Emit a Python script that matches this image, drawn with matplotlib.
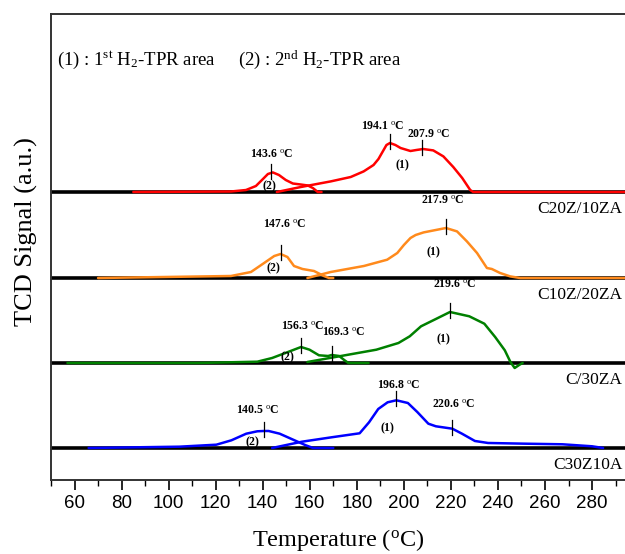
import matplotlib
matplotlib.use("Agg")
import matplotlib.pyplot as plt

plt.rcParams['font.family'] = 'Liberation Serif'
plt.rcParams['mathtext.fontset'] = 'custom'
plt.rcParams['mathtext.rm'] = 'Liberation Serif'
plt.rcParams['mathtext.it'] = 'Liberation Serif:italic'
plt.rcParams['mathtext.bf'] = 'Liberation Serif:bold'

# samples, top to bottom
samples = ['C20Z/10ZA', 'C10Z/20ZA', 'C/30ZA', 'C30Z10A']
colors = ['#ff0000', '#ff8a1c', '#008000', '#0000ff']
offsets = [288, 202, 117, 32]

# fitted H2-TPR components: (temperature, signal above baseline)
red_t2 = [85, 126.5, 132.9, 137.1, 140.1, 142.2, 144.3, 146.9, 149.8, 152.8, 156.2, 159.2, 161.3, 163.4, 165]
red_s2 = [0, 0.5, 2, 6, 13, 18, 19.6, 17, 12, 8.5, 7.5, 6.5, 4, 0, 0]
red_t1 = [146, 156.2, 168.9, 177.4, 182.9, 187.1, 189.2, 190.9, 192.6, 194.1, 196.4, 198.6, 202.8, 205.3,
          208.2, 212.5, 216.8, 221, 224.8, 228.2, 229.5, 294]
red_s1 = [0, 5, 10.6, 15, 20.6, 27, 33, 40, 47, 49, 47, 44, 41, 42, 43, 41.6, 35.6, 25, 14, 2, 0, 0]

org_t2 = [70, 126.5, 135, 140.6, 144.9, 147.6, 150.5, 153.3, 156.9, 161.8, 166, 168.2, 170]
org_s2 = [0, 2, 6, 15, 22, 24, 21, 12, 9, 7, 2, 0, 0]
org_t1 = [159, 168.9, 183, 192.9, 197.2, 200, 202.8, 205, 208.4, 212.7, 217.9, 222.6, 226.8, 231.1,
          235.3, 237.4, 240.9, 245.2, 249.4, 294]
org_s1 = [0, 6, 12, 18.3, 25, 33, 40, 43, 45.6, 47.6, 50, 46.6, 36.6, 25, 10, 9, 5, 1.6, 0, 0]

grn_t2 = [57, 112.4, 137.7, 144, 150.4, 156.3, 159.9, 163.9, 167.8, 169.3, 172.5, 174.8, 176.4, 185]
grn_s2 = [0, 0, 1.3, 5, 10.7, 16, 13.3, 7.7, 7, 8, 7, 2.7, 0, 0]
grn_t1 = [159, 170.9, 188.3, 197.7, 202.5, 207.3, 213.6, 219.6, 227.8, 234.2, 238.8, 242.9, 245.3,
          247.1, 249.2, 250.5]
grn_s1 = [1, 6, 13.3, 20, 26.7, 36.7, 44, 51, 46.7, 39.3, 26, 12.7, 1, -5, -1.7, 0]

blu_t2 = [66, 104.5, 120.3, 126.7, 133, 137.7, 140.5, 142.5, 147.2, 153.5, 158.3, 161.4, 170]
blu_s2 = [0, 1.3, 3.3, 7.7, 14.3, 16.7, 17, 17, 14.3, 7.7, 2.7, 0, 0]
blu_t1 = [144, 156.7, 169.3, 181.2, 185.2, 189.1, 193.1, 196.8, 201.7, 205.7, 210.4, 213.6, 220.6,
          224.7, 230.2, 235.8, 251.5, 267.4, 280, 284.7]
blu_s1 = [0, 6.3, 10.7, 14.7, 25.7, 39, 45.7, 47.7, 45, 36, 24.3, 21.7, 19.3, 14.3, 7, 5, 4.3, 3.7, 1.7, 0]

components = [
    ((red_t2, red_s2), (red_t1, red_s1)),
    ((org_t2, org_s2), (org_t1, org_s1)),
    ((grn_t2, grn_s2), (grn_t1, grn_s1)),
    ((blu_t2, blu_s2), (blu_t1, blu_s1)),
]

# labelled peak maxima per sample
peak_temps = [[143.6, 194.1, 207.9], [147.6, 217.9], [156.3, 169.3, 219.6], [140.5, 196.8, 220.6]]


def signal_at(t, s, x):
    # value of the component curve at x (linear between read points)
    for i in range(len(t) - 1):
        if t[i] <= x <= t[i + 1]:
            f = (x - t[i]) / (t[i + 1] - t[i])
            return s[i] + f * (s[i + 1] - s[i])
    return 0


# where the peak labels and the (1)/(2) marks sit, relative to the baseline
label_pos = [
    [(144.0, 37), (191.0, 65), (210.5, 57)],
    [(149.5, 53), (216.5, 77)],
    [(157.0, 36), (174.5, 30), (221.5, 78)],
    [(137.7, 37), (198.0, 62), (221.0, 43)],
]
area_pos = [
    [(143.0, 6, '(2)'), (199.5, 27, '(1)')],
    [(144.5, 10, '(2)'), (212.5, 26, '(1)')],
    [(150.5, 6, '(2)'), (217.0, 24, '(1)')],
    [(135.5, 6, '(2)'), (193.0, 20, '(1)')],
]

fig = plt.figure(figsize=(6.25, 5.54), dpi=100)
ax = fig.add_axes([0.0816, 0.1336, 0.9184, 0.8411])

for k in range(len(samples)):
    y0 = offsets[k]
    ax.axhline(y0, color='black', lw=2.6, zorder=1)
    for t, s in components[k]:
        ax.plot(t, [y0 + v for v in s], color=colors[k], lw=1.8, zorder=2,
                solid_joinstyle='round', solid_capstyle='round')

    for p, (lx, ly) in zip(peak_temps[k], label_pos[k]):
        h = max(signal_at(components[k][0][0], components[k][0][1], p),
                signal_at(components[k][1][0], components[k][1][1], p))
        ax.plot([p, p], [y0 + h - 6, y0 + h + 9], color='black', lw=0.9, zorder=3)
        ax.text(lx, y0 + ly, f'{p:.1f} $^{{\\rm o}}$C', ha='center', va='center',
                fontsize=8.5, fontweight='bold', zorder=4)
    for ax_t, ax_h, txt in area_pos[k]:
        ax.text(ax_t, y0 + ax_h, txt, ha='center', va='center', fontsize=8.5,
                fontweight='bold', zorder=4)
    ax.text(0.995, y0 - 17, samples[k], transform=ax.get_yaxis_transform(),
            ha='right', va='center', fontsize=12.5)

ax.text(52.5, 420, r'(1) : 1$^{\rm st}$ H$_{2}$-TPR area', fontsize=13.5, va='center')
ax.text(129.5, 420, r'(2) : 2$^{\rm nd}$ H$_{2}$-TPR area', fontsize=13.5, va='center')

ax.set_xlim(50.7, 294)
ax.set_ylim(0, 466)
ax.set_xticks(range(60, 290, 20))
ax.set_xticks(range(50, 295, 10), minor=True)
ax.set_yticks([])
ax.tick_params(axis='x', which='major', length=7, width=1.2, direction='out',
               labelsize=13.5, pad=4)
ax.tick_params(axis='x', which='minor', length=4, width=1.0, direction='out')
for lab in ax.get_xticklabels():
    lab.set_family('Liberation Sans')
for side in ['left', 'top', 'bottom']:
    ax.spines[side].set_linewidth(1.4)
    ax.spines[side].set_color('#333333')
ax.spines['right'].set_visible(False)

ax.set_xlabel(r'Temperature ($^{\rm o}$C)', fontsize=17.5)
ax.xaxis.set_label_coords(0.5, -0.100)
ax.set_ylabel('TCD Signal (a.u.)', fontsize=19)
ax.yaxis.set_label_coords(-0.022, 0.534)

fig.savefig('out.png', dpi=100)
